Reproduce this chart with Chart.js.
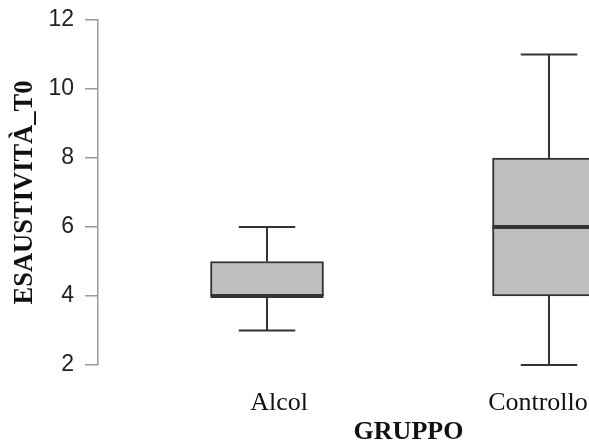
<!DOCTYPE html>
<html>
<head>
<meta charset="utf-8">
<script src="https://cdn.jsdelivr.net/npm/chart.js@4/dist/chart.umd.min.js"></script>
<style>
html,body{margin:0;padding:0;background:#fff;overflow:hidden;}
#wrap{width:589px;height:444px;position:relative;}
</style>
</head>
<body>
<div id="wrap"><canvas id="c" width="589" height="444"></canvas></div>
<script>
const categories = ['Alcol', 'Controllo'];
const mins    = [3, 2];
const q1      = [4, 4];
const medians = [4, 6];
const q3      = [5, 8];
const maxs    = [6, 11];
const yTicks  = [2, 4, 6, 8, 10, 12];
const xTitle  = 'GRUPPO';
const yTitle  = 'ESAUSTIVITÀ_T0';

const BOX_W = 113;
const DARK = '#333333';
const SERIF = "'Liberation Serif', 'Times New Roman', serif";

const boxData = categories.map((c, i) => ({ x: i + 1, y: [q1[i], q3[i]] }));

const boxPlugin = {
  id: 'boxParts',
  afterDatasetsDraw(chart) {
    const ctx = chart.ctx, xs = chart.scales.x, ys = chart.scales.y;
    ctx.save();
    ctx.strokeStyle = DARK;
    ctx.lineCap = 'butt';
    categories.forEach((c, i) => {
      const cx = xs.getPixelForValue(i + 1);
      const half = BOX_W / 2;
      ctx.lineWidth = 2;
      ctx.beginPath();
      ctx.moveTo(cx, ys.getPixelForValue(q3[i]));
      ctx.lineTo(cx, ys.getPixelForValue(maxs[i]));
      ctx.moveTo(cx, ys.getPixelForValue(q1[i]));
      ctx.lineTo(cx, ys.getPixelForValue(mins[i]));
      ctx.moveTo(cx - half / 2, ys.getPixelForValue(maxs[i]));
      ctx.lineTo(cx + half / 2, ys.getPixelForValue(maxs[i]));
      ctx.moveTo(cx - half / 2, ys.getPixelForValue(mins[i]));
      ctx.lineTo(cx + half / 2, ys.getPixelForValue(mins[i]));
      ctx.stroke();
      ctx.lineWidth = 4;
      ctx.beginPath();
      ctx.moveTo(cx - half, ys.getPixelForValue(medians[i]));
      ctx.lineTo(cx + half, ys.getPixelForValue(medians[i]));
      ctx.stroke();
    });
    // x-axis title centred between the group labels (as in R)
    const xl = chart.scales.xl;
    const tx = (xl.getPixelForValue(1) + xl.getPixelForValue(categories.length)) / 2;
    ctx.fillStyle = '#111';
    ctx.font = 'bold 26px ' + SERIF;
    ctx.textAlign = 'center';
    ctx.textBaseline = 'alphabetic';
    ctx.fillText(xTitle, tx, xl.bottom - 5);
    ctx.restore();
  }
};

new Chart(document.getElementById('c'), {
  type: 'bar',
  data: {
    datasets: [{
      data: boxData,
      backgroundColor: '#bfbfbf',
      borderColor: DARK,
      borderWidth: 2,
      borderSkipped: false,
      barThickness: BOX_W,
      xAxisID: 'x',
      yAxisID: 'y'
    }]
  },
  options: {
    responsive: false,
    animation: false,
    layout: { padding: { top: 20, right: 0, left: 0, bottom: 0 } },
    plugins: { legend: { display: false }, tooltip: { enabled: false } },
    scales: {
      x: {
        type: 'linear', display: false, offset: false,
        min: 0.4007, max: 2.1418
      },
      xl: {
        type: 'linear', position: 'bottom', offset: false,
        min: 0.301, max: 2.197,
        grid: { display: false },
        border: { display: false },
        afterBuildTicks(s) { s.ticks = categories.map((c, i) => ({ value: i + 1 })); },
        ticks: {
          autoSkip: false, maxRotation: 0, padding: 15,
          color: '#111',
          font: { family: SERIF, size: 26 },
          callback: (v) => categories[v - 1]
        },
        afterFit(s) { s.height = 79; s.paddingLeft = 0; s.paddingRight = 0; }
      },
      y: {
        type: 'linear', position: 'left',
        min: 2, max: 12,
        afterBuildTicks(s) { s.ticks = yTicks.map(v => ({ value: v })); },
        grid: { display: true, drawOnChartArea: false, drawTicks: true, tickLength: 13, color: '#999', lineWidth: 1.5 },
        border: { display: true, color: '#999', width: 1.5 },
        ticks: {
          padding: 11, color: '#222',
          font: { family: "'Liberation Sans', Arial, sans-serif", size: 23 }
        },
        title: {
          display: true, text: yTitle, color: '#111',
          font: { family: SERIF, size: 26.5, weight: 'bold' },
          padding: { top: 9, bottom: 0 }
        },
        afterFit(s) { s.width = 98; s.paddingTop = 0; s.paddingBottom = 0; }
      }
    }
  },
  plugins: [boxPlugin]
});
</script>
</body>
</html>
